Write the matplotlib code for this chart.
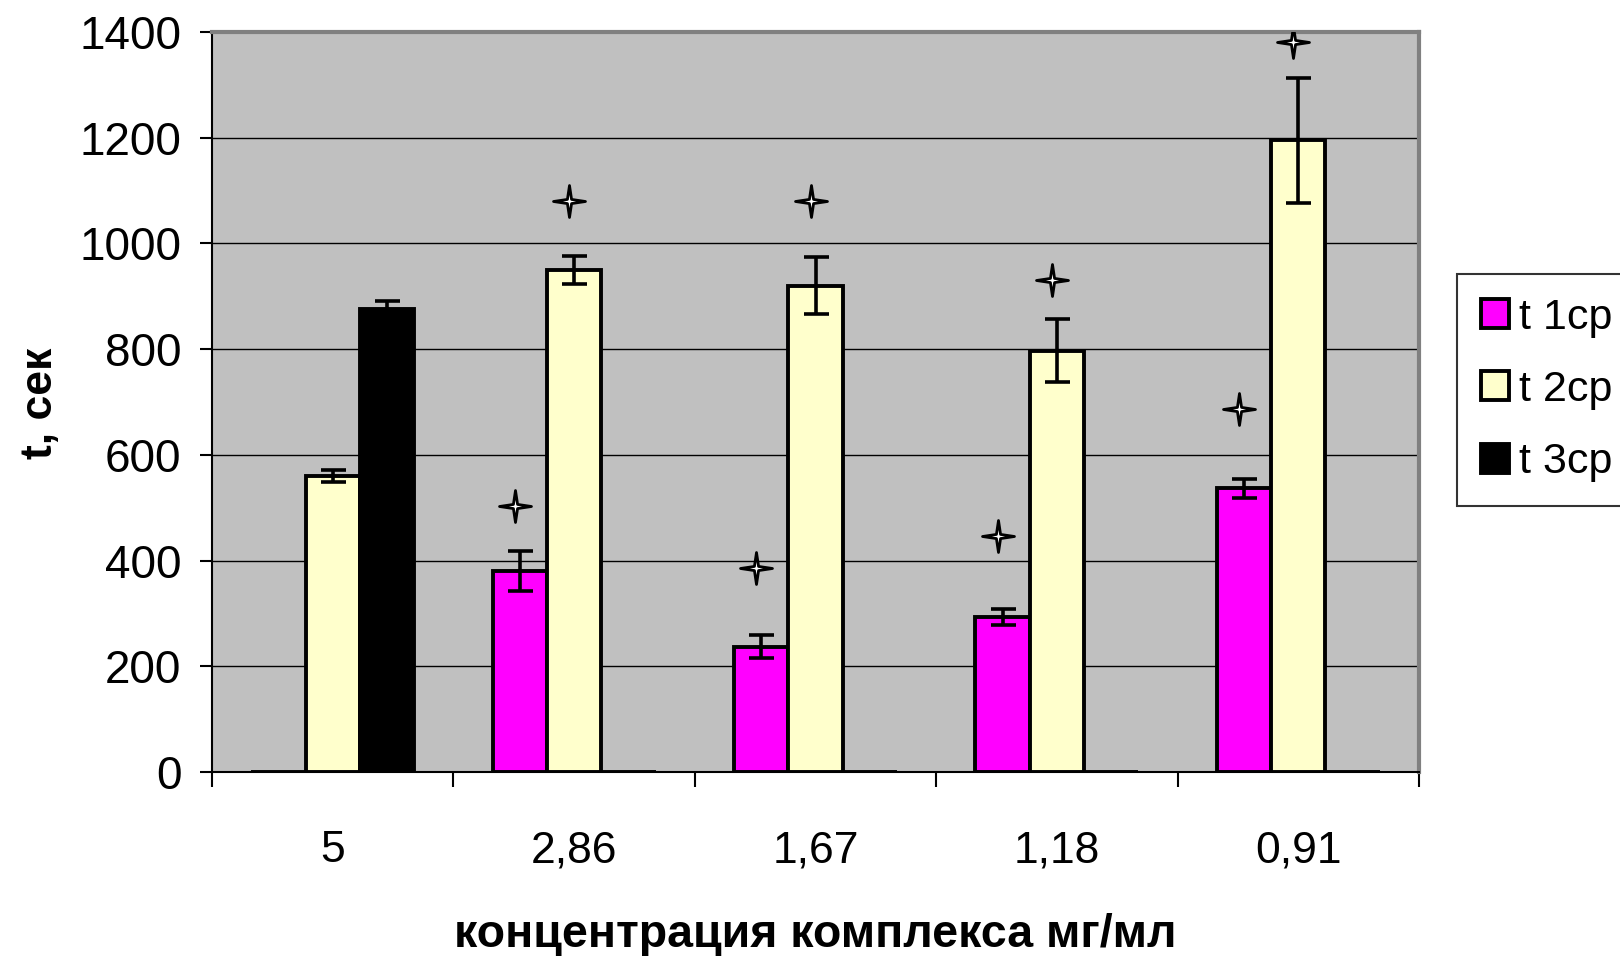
import matplotlib
matplotlib.use('Agg')
import matplotlib.pyplot as plt
import numpy as np
from matplotlib.path import Path

# шрифты (похоже на Arial из Excel)
plt.rcParams['font.family'] = ['Liberation Sans', 'DejaVu Sans']

# данные
concentrations = ['5', '2,86', '1,67', '1,18', '0,91']
series_names = ['t 1ср', 't 2ср', 't 3ср']
t1 = [0, 380, 237, 293, 537]
t1_err = [0, 38, 22, 15, 18]
t2 = [560, 950, 920, 797, 1195]
t2_err = [11, 26, 54, 60, 118]
t3 = [876, 0, 0, 0, 0]
t3_err = [15, 0, 0, 0, 0]
# звёздочки (достоверные отличия) над столбиками
t1_star = [None, 504, 385, 446, 686]
t2_star = [None, 1081, 1081, 931, 1382]

colors = ['#FF00FF', '#FFFFCC', '#000000']

x = np.arange(len(concentrations))
bar_width = 0.225
offsets = [-bar_width, 0, bar_width]

fig = plt.figure(figsize=(16.2, 9.56), dpi=100)
ax = fig.add_axes([0.1309, 0.1925, 0.745, 0.774])
ax.set_facecolor('#C0C0C0')

values = [t1, t2, t3]
errors = [t1_err, t2_err, t3_err]
handles = []
for i in range(3):
    vals = np.array(values[i])
    errs = np.array(errors[i])
    bars = ax.bar(x + offsets[i], vals, width=bar_width, color=colors[i],
                  edgecolor='black', linewidth=2.8, zorder=3,
                  label=series_names[i])
    handles.append(bars)
    # усы погрешности только для ненулевых столбиков
    mask = vals > 0
    ax.errorbar(x[mask] + offsets[i], vals[mask], yerr=errs[mask], fmt='none',
                ecolor='black', elinewidth=2.6, capsize=9, capthick=2.6,
                zorder=4)

# маркер - четырёхконечная звезда
a = 0.13
star_verts = [(0, 1), (a, a), (1, 0), (a, -a), (0, -1), (-a, -a), (-1, 0), (-a, a), (0, 1)]
star_codes = [Path.MOVETO] + [Path.LINETO] * 7 + [Path.CLOSEPOLY]
star = Path(star_verts, star_codes)

for stars, off in [(t1_star, offsets[0]), (t2_star, offsets[1])]:
    sx = [x[j] + off - 0.02 for j in range(len(stars)) if stars[j] is not None]
    sy = [s for s in stars if s is not None]
    ax.plot(sx, sy, linestyle='none', marker=star, markersize=23,
            markerfacecolor='white', markeredgecolor='black',
            markeredgewidth=2.0, zorder=5)

# оси
ax.set_xlim(-0.5, len(concentrations) - 0.5)
ax.set_ylim(0, 1400)
ax.set_yticks(np.arange(0, 1401, 200))
ax.yaxis.grid(True, color='black', linewidth=1.0, zorder=1)
ax.set_axisbelow(True)

ax.set_xticks(x)
ax.set_xticklabels(concentrations, fontsize=32)
ax.set_xticks(np.arange(-0.5, len(concentrations)), minor=True)
ax.tick_params(axis='x', which='major', length=0, pad=42)
ax.tick_params(axis='x', which='minor', length=11, width=1.5, direction='out')
ax.tick_params(axis='y', length=9, width=1.5, direction='out', pad=13,
               labelsize=33)

for side in ['top', 'right']:
    ax.spines[side].set_color('#808080')
    ax.spines[side].set_linewidth(3)
for side in ['left', 'bottom']:
    ax.spines[side].set_color('black')
    ax.spines[side].set_linewidth(1.5)

ax.set_xlabel('концентрация комплекса мг/мл', fontsize=33.5,
              fontweight='bold', labelpad=30)
fig.text(0.025, 0.578, 't, сек', rotation=90, ha='center', va='center',
         fontsize=32, fontweight='bold')

# легенда (обрезана правым краем, как в оригинале)
leg = fig.legend(handles=handles, loc='upper left',
                 bbox_to_anchor=(1457 / 1620, 1 - 274 / 956),
                 prop={'size': 31},
                 frameon=True, fancybox=False, edgecolor='black',
                 handlelength=0.65, handleheight=0.65, handletextpad=0.25,
                 labelspacing=0.75, borderpad=0.55, borderaxespad=0)
leg.get_frame().set_linewidth(1.5)

fig.savefig('out.png', dpi=100, facecolor='white')
